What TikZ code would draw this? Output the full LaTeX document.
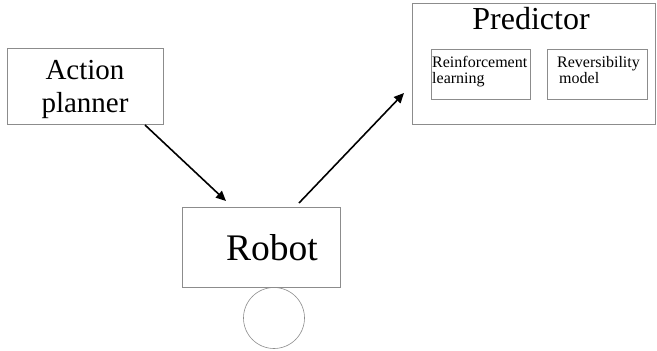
\documentclass[tikz,border=0pt]{standalone}
\usepackage{fontspec}
\setmainfont{Liberation Serif}
\usetikzlibrary{arrows.meta}
\begin{document}
\begin{tikzpicture}[x=1pt,y=-1pt,
  box/.style={draw=black!45,line width=0.6pt,inner sep=0pt},
  conn/.style={line width=1.6pt,-{Triangle[length=10pt,width=9pt]}}]
\useasboundingbox (0,0) rectangle (657,351);
% boxes
\node[box,minimum width=156pt,minimum height=76pt,anchor=north west] (ap) at (7,48) {};
\node[font=\fontsize{29}{33}\selectfont,align=center,anchor=base,inner sep=0pt] (aptext) at (85,112) {Action\\planner};
\node[box,minimum width=158pt,minimum height=80pt,anchor=north west] (robot) at (182,207) {};
\node[font=\fontsize{37.5}{40}\selectfont,anchor=base,inner sep=0pt] (robottext) at (272,260) {Robot};
\node[draw=black!45,line width=0.6pt,circle,minimum size=61pt,inner sep=0pt] (wheel) at (274,318) {};
\node[box,minimum width=243pt,minimum height=121pt,anchor=north west] (pred) at (412,3) {};
\node[font=\fontsize{32}{36}\selectfont,anchor=base,inner sep=0pt] (ptitle) at (531,29) {Predictor};
\node[box,minimum width=99pt,minimum height=50pt,anchor=north west] (rl) at (431,49) {};
\node[font=\fontsize{16}{16}\selectfont,align=left,anchor=base west,inner sep=0pt] (rltext) at (432,83) {Reinforcement\\learning};
\node[box,minimum width=100pt,minimum height=50pt,anchor=north west] (rm) at (547,49) {};
\node[font=\fontsize{16}{16}\selectfont,align=left,anchor=base west,inner sep=0pt] (rmtext) at (557,83) {Reversibility\\\hspace*{2pt}model};
% connectors
\coordinate (a1s) at (145,125);
\coordinate (a1e) at (226,201);
\coordinate (a2s) at (299,203);
\coordinate (a2e) at (404,93);
\draw[conn] (a1s) -- (a1e);
\draw[conn] (a2s) -- (a2e);
\end{tikzpicture}
\end{document}
